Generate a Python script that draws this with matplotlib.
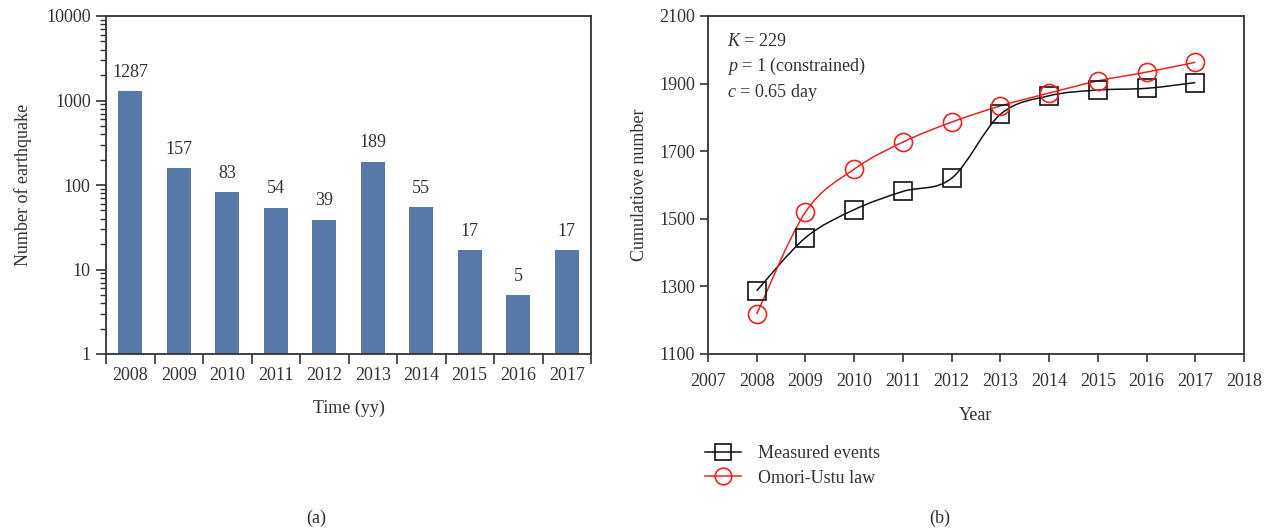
import numpy as np
import matplotlib
matplotlib.use("Agg")
import matplotlib.pyplot as plt
from matplotlib.path import Path
from matplotlib.patches import PathPatch
from matplotlib.lines import Line2D
from matplotlib.ticker import LogLocator, NullFormatter, FixedLocator

plt.rcParams['font.family'] = ['Liberation Serif', 'DejaVu Serif']
plt.rcParams['mathtext.fontset'] = 'custom'
plt.rcParams['mathtext.rm'] = 'Liberation Serif'
plt.rcParams['mathtext.it'] = 'Liberation Serif:italic'

# ---- data ----
years = [2008, 2009, 2010, 2011, 2012, 2013, 2014, 2015, 2016, 2017]
counts = [1287, 157, 83, 54, 39, 189, 55, 17, 5, 17]
measured = [1287, 1444, 1527, 1581, 1620, 1809, 1864, 1881, 1886, 1903]
omori = [1218, 1520, 1647, 1727, 1786, 1834, 1872, 1908, 1934, 1963]
params = ["$K$ = 229", "$p$ = 1 (constrained)", "$c$ = 0.65 day"]

FS = 13
BAR = '#5779a8'
AXC = '#333333'

fig = plt.figure(figsize=(12.71, 5.31), dpi=100)

# ---------- (a) ----------
ax1 = fig.add_axes([106/1271, 1-354/531, (591-106)/1271, (354-16)/531])
xpos = np.arange(len(years))
ax1.bar(xpos, counts, width=0.5, color=BAR, bottom=0)
ax1.set_yscale('log')
ax1.set_ylim(1, 10000)
ax1.set_xlim(-0.5, len(years)-0.5)
for x, v in zip(xpos, counts):
    ax1.text(x, v*1.32, str(v), ha='center', va='bottom', fontsize=FS, color=AXC)
ax1.xaxis.set_major_locator(FixedLocator(np.arange(-0.5, len(years)+0.5, 1)))
ax1.set_xticklabels([])
ax1.xaxis.set_minor_locator(FixedLocator(xpos))
ax1.set_xticklabels([str(y) for y in years], minor=True)
ax1.tick_params(axis='x', which='major', direction='out', length=7, width=1.2, color=AXC)
ax1.tick_params(axis='x', which='minor', length=0, pad=9, labelsize=FS, labelcolor=AXC)
ax1.yaxis.set_minor_locator(LogLocator(base=10, subs=np.arange(2, 10), numticks=20))
ax1.yaxis.set_minor_formatter(NullFormatter())
ax1.set_yticks([1, 10, 100, 1000, 10000])
ax1.set_yticklabels(['1', '10', '100', '1000', '10000'])
ax1.tick_params(axis='y', which='major', direction='out', length=7, width=1.2, color=AXC, labelsize=FS, labelcolor=AXC, pad=4)
ax1.tick_params(axis='y', which='minor', direction='out', length=4, width=1.0, color=AXC)
for s in ax1.spines.values():
    s.set_color(AXC)
    s.set_linewidth(1.3)
ax1.set_xlabel('Time (yy)', fontsize=FS, color=AXC, labelpad=12)
ax1.set_ylabel('Number of earthquake', fontsize=FS, color=AXC, labelpad=10)

# ---------- (b) ----------
ax2 = fig.add_axes([708/1271, 1-354/531, (1244-708)/1271, (354-16)/531])
ax2.set_xlim(2007, 2018)
ax2.set_ylim(1100, 2100)
ax2.set_xticks(range(2007, 2019))
ax2.set_yticks(range(1100, 2101, 200))
ax2.tick_params(direction='out', length=6, width=1.2, color=AXC, labelsize=FS, labelcolor=AXC)
ax2.tick_params(axis='x', pad=8)
for s in ax2.spines.values():
    s.set_color(AXC)
    s.set_linewidth(1.3)


def smooth_path(xs, ys):
    pts = np.column_stack([xs, ys]).astype(float)
    n = len(pts)
    verts = [pts[0]]
    codes = [Path.MOVETO]
    for i in range(n-1):
        p0 = pts[i-1] if i > 0 else pts[i]
        p1 = pts[i]
        p2 = pts[i+1]
        p3 = pts[i+2] if i+2 < n else pts[i+1]
        c1 = p1 + (p2 - p0)/6.0
        c2 = p2 - (p3 - p1)/6.0
        verts += [c1, c2, p2]
        codes += [Path.CURVE4]*3
    return Path(verts, codes)


ax2.add_patch(PathPatch(smooth_path(years, measured), fill=False, edgecolor='#111111', lw=1.1, zorder=2))
ax2.add_patch(PathPatch(smooth_path(years, omori), fill=False, edgecolor='#ee2222', lw=1.1, zorder=2))
ax2.plot(years, measured, ls='none', marker='s', ms=13, mfc='none', mec='#111111', mew=1.2, zorder=3)
ax2.plot(years, omori, ls='none', marker='o', ms=13, mfc='none', mec='#ee2222', mew=1.2, zorder=3)

for i, t in enumerate(params):
    ax2.text(0.035, 0.925 - i*0.075, t, transform=ax2.transAxes, fontsize=FS, color=AXC, va='center', ha='left')

ax2.set_xlabel('Year', fontsize=FS, color=AXC, labelpad=12)
ax2.set_ylabel('Cumulatiove number', fontsize=FS, color=AXC, labelpad=8)

handles = [
    Line2D([], [], color='#111111', lw=1.1, marker='s', ms=12, mfc='none', mec='#111111', mew=1.2),
    Line2D([], [], color='#ee2222', lw=1.1, marker='o', ms=12, mfc='none', mec='#ee2222', mew=1.2),
]
fig.legend(handles, ['Measured events', 'Omori-Ustu law'], loc='center left',
           bbox_to_anchor=(698/1271, 1-466/531), frameon=False, fontsize=FS,
           handlelength=2.0, labelspacing=0.4, handletextpad=0.9, labelcolor=AXC,
           borderaxespad=0.0)

fig.text(316/1271, 1-518/531, '(a)', ha='center', va='center', fontsize=FS, color=AXC)
fig.text(940/1271, 1-518/531, '(b)', ha='center', va='center', fontsize=FS, color=AXC)

fig.savefig('out.png', dpi=100)
